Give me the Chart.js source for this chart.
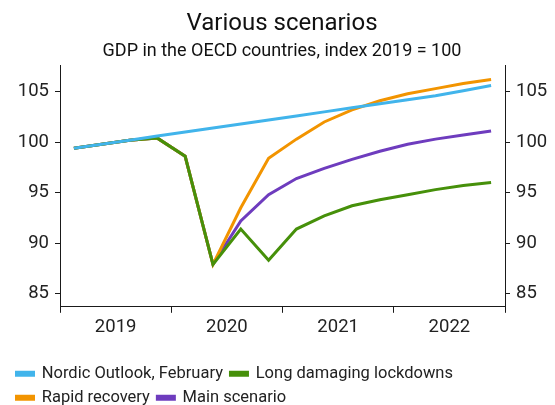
<!DOCTYPE html>
<html>
<head>
<meta charset="utf-8">
<script src="https://cdn.jsdelivr.net/npm/chart.js@4.4.1/dist/chart.umd.min.js"></script>
<style>
  html, body { margin: 0; padding: 0; background: #fff; }
  #wrap { width: 555px; height: 405px; }
</style>
</head>
<body>
<div id="wrap"><canvas id="c" width="555" height="405"></canvas></div>
<script>
const years = ['2019', '2020', '2021', '2022'];
const quarters = ['2019Q1','2019Q2','2019Q3','2019Q4','2020Q1','2020Q2','2020Q3','2020Q4',
                  '2021Q1','2021Q2','2021Q3','2021Q4','2022Q1','2022Q2','2022Q3','2022Q4'];
const nordicOutlook = [99.4, 99.8, 100.2, 100.6, 101.0, 101.4, 101.8, 102.2, 102.6, 103.0, 103.4, 103.8, 104.2, 104.6, 105.1, 105.6];
const longLockdowns = [99.4, 99.8, 100.2, 100.4, 98.6, 87.9, 91.4, 88.3, 91.4, 92.7, 93.7, 94.3, 94.8, 95.3, 95.7, 96.0];
const rapidRecovery = [99.4, 99.8, 100.2, 100.4, 98.6, 87.9, 93.5, 98.4, 100.3, 102.0, 103.2, 104.1, 104.8, 105.3, 105.8, 106.2];
const mainScenario  = [99.4, 99.8, 100.2, 100.4, 98.6, 87.9, 92.2, 94.8, 96.4, 97.4, 98.3, 99.1, 99.8, 100.3, 100.7, 101.1];
const yTicks = [85, 90, 95, 100, 105];

const toPoints = arr => arr.map((v, i) => ({ x: i + 0.5, y: v }));
const FONT = 'Roboto';
const AX = '#1a1a1a';

const yAxis = (pos) => ({
  type: 'linear',
  position: pos,
  min: 83.7,
  max: 107.6,
  afterBuildTicks: s => { s.ticks = yTicks.map(v => ({ value: v })); },
  afterFit: s => { s.width = pos === 'left' ? 51 : 50; },
  ticks: { color: '#222', font: { family: FONT, size: 18.5 }, padding: 6, includeBounds: false },
  grid: { drawOnChartArea: false, drawTicks: true, tickLength: 5, color: AX },
  border: { display: true, color: AX, width: 1 }
});

new Chart(document.getElementById('c'), {
  type: 'line',
  data: {
    datasets: [
      { label: 'Nordic Outlook, February', data: toPoints(nordicOutlook), borderColor: '#41b4eb', backgroundColor: '#41b4eb' },
      { label: 'Long damaging lockdowns', data: toPoints(longLockdowns), borderColor: '#46900a', backgroundColor: '#46900a' },
      { label: 'Rapid recovery', data: toPoints(rapidRecovery), borderColor: '#f29400', backgroundColor: '#f29400' },
      { label: 'Main scenario', data: toPoints(mainScenario), borderColor: '#6e3cbe', backgroundColor: '#6e3cbe' }
    ]
  },
  options: {
    responsive: false,
    animation: false,
    devicePixelRatio: 1,
    elements: {
      line: { borderWidth: 3, tension: 0, borderCapStyle: 'butt', borderJoinStyle: 'miter' },
      point: { radius: 0, hoverRadius: 0 }
    },
    layout: { padding: { left: 9, right: 0, top: 10, bottom: -11 } },
    scales: {
      x: {
        type: 'linear',
        min: 0,
        max: quarters.length,
        afterBuildTicks: s => {
          const t = [];
          for (let v = 0; v <= quarters.length; v += 2) t.push({ value: v });
          s.ticks = t;
        },
        afterFit: s => { s.height += 17; },
        ticks: {
          autoSkip: false,
          maxRotation: 0,
          color: '#222',
          font: { family: FONT, size: 18.5 },
          padding: 3,
          callback: v => (v % 4 === 2 ? years[(v - 2) / 4] : '')
        },
        grid: {
          drawOnChartArea: false,
          drawTicks: true,
          tickLength: 6,
          color: ctx => (ctx.tick && ctx.tick.value % 4 === 0 ? AX : 'rgba(0,0,0,0)')
        },
        border: { display: true, color: AX, width: 1 }
      },
      y: yAxis('left'),
      y2: yAxis('right')
    },
    plugins: {
      tooltip: { enabled: false },
      title: {
        display: true,
        text: 'Various scenarios',
        color: '#111',
        font: { family: FONT, size: 24, weight: 'normal' },
        padding: { top: 0, bottom: 2 }
      },
      subtitle: {
        display: true,
        text: 'GDP in the OECD countries, index 2019 = 100',
        color: '#111',
        font: { family: FONT, size: 18, weight: 'normal' },
        padding: { top: 0, bottom: 3 }
      },
      legend: {
        position: 'bottom',
        align: 'start',
        labels: {
          boxWidth: 17,
          boxHeight: 3,
          padding: 7.5,
          color: '#222',
          font: { family: FONT, size: 16.5 }
        }
      }
    }
  }
});
</script>
</body>
</html>
